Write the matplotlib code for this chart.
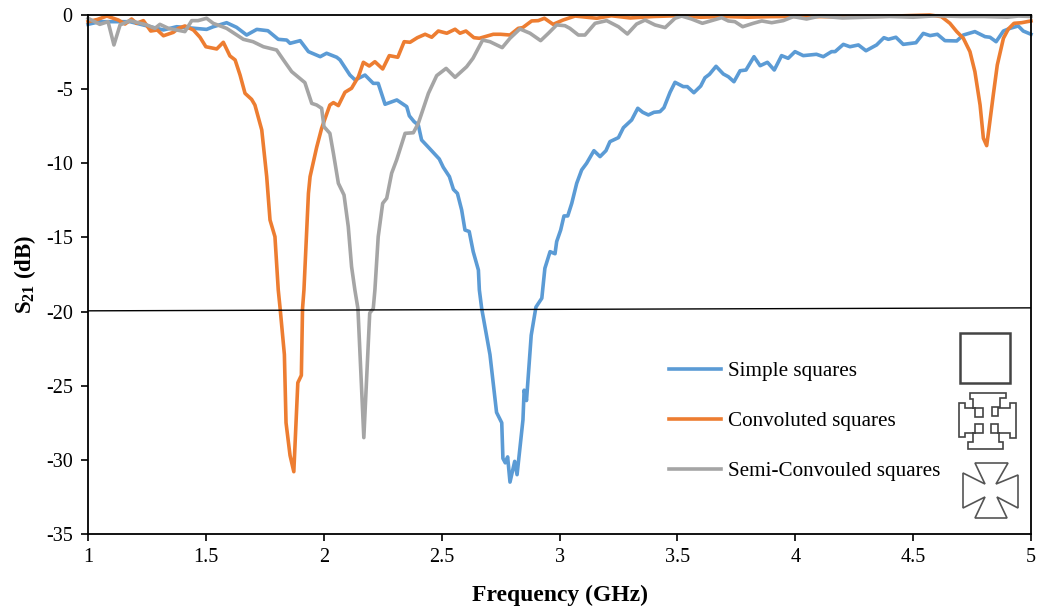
import matplotlib
matplotlib.use('Agg')
import matplotlib.pyplot as plt
from matplotlib.patches import Polygon, Rectangle

plt.rcParams['font.family'] = ['Liberation Serif', 'DejaVu Serif']
plt.rcParams['mathtext.fontset'] = 'custom'
plt.rcParams['mathtext.bf'] = 'Liberation Serif:bold'
plt.rcParams['mathtext.rm'] = 'Liberation Serif'
plt.rcParams['axes.unicode_minus'] = False

simple_f = [1.0, 1.05, 1.178, 1.32, 1.376, 1.503, 1.53, 1.588, 1.63, 1.673, 1.716, 1.763, 1.807, 1.843, 1.857, 1.9,
            1.935, 1.985, 2.012, 2.055, 2.069, 2.111, 2.133, 2.175, 2.21, 2.231, 2.26, 2.31, 2.352, 2.363, 2.383,
            2.401, 2.415, 2.444, 2.49, 2.507, 2.533, 2.55, 2.567, 2.585, 2.599, 2.617, 2.634, 2.656, 2.66, 2.67,
            2.705, 2.733, 2.755, 2.76, 2.77, 2.78, 2.79, 2.81, 2.82, 2.845, 2.85, 2.86, 2.88, 2.90, 2.925, 2.938,
            2.96, 2.981, 2.988, 3.005, 3.019, 3.035, 3.052, 3.073, 3.094, 3.115, 3.146, 3.172, 3.197, 3.214, 3.25,
            3.271, 3.306, 3.332, 3.353, 3.377, 3.401, 3.426, 3.443, 3.469, 3.49, 3.525, 3.542, 3.57, 3.599, 3.617,
            3.636, 3.664, 3.695, 3.716, 3.74, 3.766, 3.791, 3.825, 3.851, 3.882, 3.911, 3.942, 3.97, 3.999, 4.034,
            4.09, 4.119, 4.154, 4.169, 4.204, 4.232, 4.268, 4.3, 4.345, 4.376, 4.395, 4.427, 4.458, 4.512, 4.543,
            4.572, 4.603, 4.635, 4.685, 4.713, 4.762, 4.805, 4.826, 4.852, 4.883, 4.911, 4.946, 4.967, 5.0]
simple_db = [-0.63, -0.45, -0.45, -1.01, -0.79, -0.97, -0.8, -0.52, -0.83, -1.35, -0.97, -1.06, -1.64, -1.69, -1.91,
             -1.73, -2.47, -2.81, -2.58, -2.85, -3.03, -4.05, -4.38, -4.05, -4.61, -4.61, -6.02, -5.73, -6.18, -6.8,
             -7.19, -7.42, -8.43, -8.92, -9.71, -10.27, -10.9, -11.76, -12.03, -13.15, -14.5, -14.6, -15.96, -17.2,
             -18.54, -19.8, -22.9, -26.8, -27.5, -29.9, -30.2, -29.8, -31.5, -30.1, -31.0, -27.3, -25.3, -26.0, -21.6,
             -19.7, -19.1, -17.08, -15.96, -16.1, -15.28, -14.5, -13.55, -13.55, -12.7, -11.35, -10.45, -10.0, -9.15,
             -9.55, -9.15, -8.54, -8.27, -7.6, -7.08, -6.29, -6.56, -6.74, -6.56, -6.52, -6.25, -5.21, -4.54, -4.83,
             -4.83, -5.24, -4.79, -4.23, -4.0, -3.46, -3.98, -4.16, -4.5, -3.76, -3.71, -2.81, -3.42, -3.19, -3.71,
             -2.74, -2.92, -2.47, -2.74, -2.65, -2.81, -2.47, -2.47, -1.98, -2.14, -2.02, -2.41, -2.02, -1.53, -1.64,
             -1.5, -1.98, -1.87, -1.24, -1.39, -1.3, -1.73, -1.75, -1.35, -1.12, -1.46, -1.5, -1.8, -1.08, -0.9, -0.74,
             -1.08, -1.3]

conv_f = [1.0, 1.04, 1.08, 1.129, 1.157, 1.185, 1.206, 1.235, 1.266, 1.294, 1.32, 1.362, 1.383, 1.411, 1.447, 1.475,
          1.5, 1.546, 1.574, 1.602, 1.624, 1.645, 1.666, 1.694, 1.708, 1.737, 1.758, 1.772, 1.793, 1.807, 1.815,
          1.833, 1.84, 1.857, 1.873, 1.89, 1.905, 1.91, 1.916, 1.935, 1.942, 1.97, 1.991, 2.026, 2.041, 2.062, 2.09,
          2.118, 2.147, 2.168, 2.193, 2.217, 2.25, 2.278, 2.314, 2.341, 2.366, 2.397, 2.43, 2.458, 2.486, 2.522,
          2.557, 2.578, 2.603, 2.637, 2.66, 2.719, 2.75, 2.79, 2.825, 2.844, 2.882, 2.91, 2.936, 2.973, 3.015, 3.066,
          3.158, 3.22, 3.3, 3.4, 3.5, 3.6, 3.7, 3.8, 3.893, 4.0, 4.2, 4.4, 4.57, 4.62, 4.656, 4.685, 4.713, 4.741,
          4.762, 4.784, 4.798, 4.812, 4.822, 4.84, 4.857, 4.883, 4.904, 4.928, 4.96, 5.0]
conv_db = [-0.45, -0.3, -0.07, -0.34, -0.61, -0.27, -0.56, -0.38, -1.08, -1.01, -1.4, -1.17, -0.9, -0.74, -1.01, -1.5,
           -2.14, -2.29, -1.84, -2.76, -3.03, -4.05, -5.28, -5.69, -6.07, -7.75, -10.9, -13.82, -14.95, -18.54, -19.8,
           -22.9, -27.5, -29.7, -30.8, -24.8, -24.3, -19.8, -18.54, -12.03, -10.9, -8.92, -7.64, -6.07, -5.91, -6.11,
           -5.21, -4.94, -4.16, -3.19, -3.44, -3.15, -3.64, -2.74, -2.85, -1.8, -1.84, -1.53, -1.3, -1.5, -1.08, -1.23,
           -0.96, -1.23, -1.08, -1.53, -1.57, -1.3, -1.3, -1.35, -0.9, -0.85, -0.4, -0.38, -0.22, -0.63, -0.34, -0.07,
           -0.22, -0.05, -0.2, -0.1, -0.05, -0.15, -0.1, -0.15, -0.11, -0.1, -0.12, -0.08, 0.0, -0.11, -0.56, -1.12,
           -1.57, -2.47, -3.82, -6.07, -8.31, -8.81, -7.62, -5.39, -3.37, -1.57, -0.94, -0.56, -0.52, -0.4]

semi_f = [1.0, 1.05, 1.085, 1.11, 1.136, 1.178, 1.249, 1.284, 1.305, 1.341, 1.411, 1.44, 1.467, 1.503, 1.531, 1.588,
          1.659, 1.7, 1.744, 1.8, 1.829, 1.864, 1.92, 1.949, 1.97, 1.991, 2.001, 2.026, 2.041, 2.062, 2.086, 2.104,
          2.118, 2.132, 2.145, 2.17, 2.195, 2.21, 2.217, 2.231, 2.25, 2.267, 2.288, 2.309, 2.345, 2.38, 2.401, 2.444,
          2.479, 2.519, 2.557, 2.606, 2.633, 2.674, 2.705, 2.757, 2.79, 2.832, 2.875, 2.92, 2.953, 2.988, 3.023, 3.044,
          3.08, 3.108, 3.151, 3.2, 3.25, 3.288, 3.327, 3.363, 3.405, 3.448, 3.49, 3.518, 3.56, 3.606, 3.645, 3.688,
          3.716, 3.744, 3.777, 3.822, 3.858, 3.9, 3.949, 3.992, 4.048, 4.105, 4.2, 4.3, 4.4, 4.5, 4.6, 4.7, 4.8, 4.9,
          4.946, 5.0]
semi_db = [-0.22, -0.63, -0.45, -2.02, -0.67, -0.38, -0.67, -0.9, -0.63, -0.9, -1.12, -0.38, -0.38, -0.22, -0.56, -0.9,
           -1.64, -1.8, -2.14, -2.36, -3.03, -3.82, -4.56, -5.96, -6.07, -6.29, -7.53, -7.98, -9.33, -11.35, -12.14,
           -14.27, -16.97, -18.54, -19.8, -28.5, -20.1, -19.8, -18.54, -14.95, -12.7, -12.36, -10.67, -9.78, -7.98,
           -7.94, -7.31, -5.28, -4.09, -3.6, -4.2, -3.49, -2.92, -1.69, -1.8, -2.2, -1.57, -0.94, -1.23, -1.73, -1.23,
           -0.67, -0.72, -0.9, -1.35, -1.35, -0.56, -0.38, -0.79, -1.28, -0.61, -0.34, -0.67, -0.85, -0.22, -0.07, -0.27,
           -0.56, -0.38, -0.18, -0.4, -0.45, -0.79, -0.56, -0.4, -0.52, -0.38, -0.11, -0.27, -0.07, -0.2, -0.15, -0.1,
           -0.15, -0.05, -0.1, -0.1, -0.15, -0.07, -0.1]

threshold_f = [1.0, 5.0]
threshold_db = [-19.95, -19.75]

x_ticks = [1, 1.5, 2, 2.5, 3, 3.5, 4, 4.5, 5]
x_tick_labels = ['1', '1.5', '2', '2.5', '3', '3.5', '4', '4.5', '5']
y_ticks = [0, -5, -10, -15, -20, -25, -30, -35]

# icon outlines, in pixels of the image
convoluted_icon = [(970, 393), (1006, 393), (1006, 398), (1000, 398), (1000, 407), (992, 407), (992, 416), (998, 416),
                   (998, 408), (1010, 408), (1010, 403), (1016, 403), (1016, 438), (1010, 438), (1010, 433), (998, 433),
                   (998, 424), (991, 424), (991, 433), (999, 433), (999, 442), (1003, 442), (1003, 449), (968, 449),
                   (968, 442), (973, 442), (973, 433), (983, 433), (983, 424), (975, 424), (975, 433), (965, 433),
                   (965, 437), (959, 437), (959, 403), (965, 403), (965, 408), (975, 408), (975, 417), (983, 417),
                   (983, 408), (973, 408), (973, 399), (970, 399)]
cross_icon = [(975, 463), (1008, 463), (996, 484), (1018, 475), (1018, 508), (997, 497), (1007, 518), (975, 518),
              (985, 497), (963, 508), (963, 473), (985, 484)]

fig = plt.figure(figsize=(10.4, 6.1), dpi=100)
ax = fig.add_axes([88 / 1040, 1 - 534 / 610, (1031 - 88) / 1040, (534 - 15) / 610])

ax.plot(simple_f, simple_db, color='#5b9bd5', lw=2.6, label='Simple squares', clip_on=False)
ax.plot(conv_f, conv_db, color='#ed7d31', lw=2.6, label='Convoluted squares', clip_on=False)
ax.plot(semi_f, semi_db, color='#a5a5a5', lw=2.6, label='Semi-Convouled squares', clip_on=False)
ax.plot(threshold_f, threshold_db, color='black', lw=1)

ax.set_xlim(1, 5)
ax.set_ylim(-35, 0)
ax.set_xticks(x_ticks)
ax.set_xticklabels(x_tick_labels)
ax.set_yticks(y_ticks)
ax.tick_params(labelsize=14.5, width=1.2, length=5, direction='out', pad=6)
ax.tick_params(axis='x', pad=5)
for side in ['left', 'right', 'top', 'bottom']:
    ax.spines[side].set_linewidth(1.3)
ax.set_xlabel('Frequency (GHz)', fontsize=17, fontweight='bold', labelpad=13)
ax.set_ylabel(r'$\mathbf{S_{21}}$ (dB)', fontsize=16.5, fontweight='bold', labelpad=6)

ax.legend(loc='upper left', bbox_to_anchor=(0.6165, 0.332), frameon=False, fontsize=15.2, labelspacing=1.42,
          handlelength=2.45, handletextpad=0.33, borderaxespad=0, borderpad=0)

# overlay in image pixels for the unit cell icons
overlay = fig.add_axes([0, 0, 1, 1])
overlay.set_xlim(0, 1040)
overlay.set_ylim(610, 0)
overlay.axis('off')
overlay.add_patch(Rectangle((960, 333), 50, 50, fill=False, edgecolor='#444444', lw=1.8))
overlay.add_patch(Polygon(convoluted_icon, closed=True, fill=False, edgecolor='#444444', lw=1.2))
overlay.add_patch(Polygon(cross_icon, closed=True, fill=False, edgecolor='#555555', lw=1.2))

fig.savefig('out.png', dpi=100)
